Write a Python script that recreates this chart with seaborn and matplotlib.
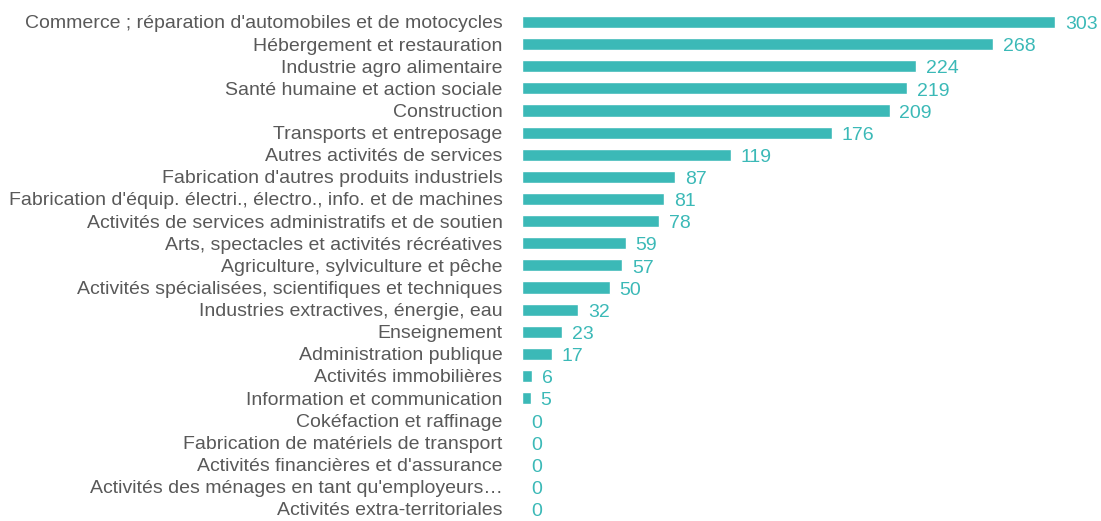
import pandas as pd
import matplotlib
matplotlib.use("Agg")
import matplotlib.pyplot as plt
import seaborn as sns

sns.set_style("white")
plt.rcParams['font.family'] = ['Liberation Sans', 'DejaVu Sans']

sectors = [
    "Commerce ; réparation d'automobiles et de motocycles",
    "Hébergement et restauration",
    "Industrie agro alimentaire",
    "Santé humaine et action sociale",
    "Construction",
    "Transports et entreposage",
    "Autres activités de services",
    "Fabrication d'autres produits industriels",
    "Fabrication d'équip. électri., électro., info. et de machines",
    "Activités de services administratifs et de soutien",
    "Arts, spectacles et activités récréatives",
    "Agriculture, sylviculture et pêche",
    "Activités spécialisées, scientifiques et techniques",
    "Industries extractives, énergie, eau",
    "Enseignement",
    "Administration publique",
    "Activités immobilières",
    "Information et communication",
    "Cokéfaction et raffinage",
    "Fabrication de matériels de transport",
    "Activités financières et d'assurance",
    "Activités des ménages en tant qu'employeurs…",
    "Activités extra-territoriales",
]
counts = [303, 268, 224, 219, 209, 176, 119, 87, 81, 78, 59, 57, 50, 32, 23,
          17, 6, 5, 0, 0, 0, 0, 0]

df = pd.DataFrame({"Secteur": sectors, "Nombre": counts})

teal = "#3BB9B7"
fig = plt.figure(figsize=(11.01, 5.21), dpi=100)
# rows: first centre ~22 px from top, last ~509 px
ax = fig.add_axes([0.474, 0.0023, 0.506, 0.9768])

sns.barplot(data=df, x="Nombre", y="Secteur", orient="h", color=teal,
            width=0.55, saturation=1, ax=ax)

for c in ax.containers:
    labels = ax.bar_label(c, padding=7, color=teal, fontsize=14)
    for t in labels:
        t.xyann = (7, -2)

ax.set_xlim(0, 316.6)
ax.set_ylim(22.5, -0.5)
ax.set_xlabel("")
ax.set_ylabel("")
ax.set_xticks([])
ax.tick_params(axis="y", length=0, pad=14, labelsize=14, labelcolor="#595959")
for s in ax.spines.values():
    s.set_visible(False)

fig.savefig("out.png", dpi=100)
